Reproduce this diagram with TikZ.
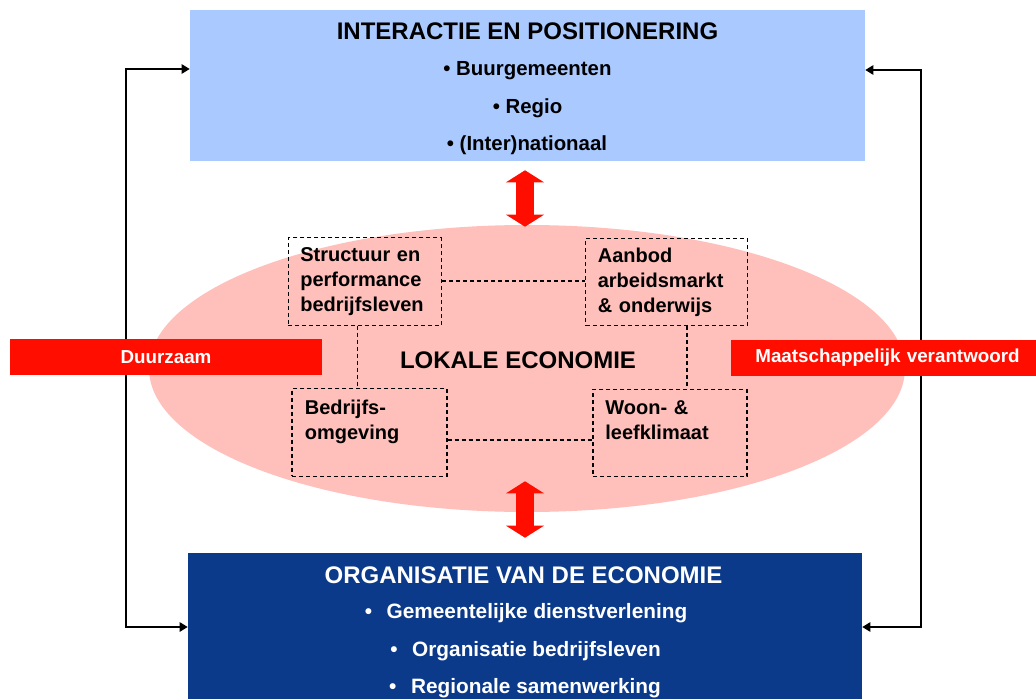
\documentclass[tikz,border=0pt]{standalone}
\usepackage{fontspec}
\setmainfont{Liberation Sans}
\usepackage{tikz}
\usetikzlibrary{shapes.geometric,arrows.meta,positioning}

\definecolor{lightblue}{RGB}{170,202,255}
\definecolor{darkblue}{RGB}{12,58,138}
\definecolor{salmon}{RGB}{255,192,187}
\definecolor{signalred}{RGB}{255,14,0}

\tikzset{
  block/.style={rectangle, inner sep=0pt},
  headtext/.style={font=\bfseries\fontsize{18}{21}\selectfont},
  itemtext/.style={font=\bfseries\fontsize{15.3}{18}\selectfont},
  dbox/.style={draw, dash pattern=on 3pt off 2.25pt, line width=0.8pt, align=left, inner xsep=9pt, text width=97pt, minimum height=65.5pt, font=\bfseries\fontsize{15}{18.75}\selectfont},
  link/.style={dash pattern=on 3pt off 2.25pt, line width=0.8pt},
  feedback/.style={{Triangle[length=6pt,width=7pt]}-{Triangle[length=6pt,width=7pt]}, line width=1.1pt},
  bigarrow/.style={signalred, line width=14pt, {Triangle[length=9pt,width=28pt]}-{Triangle[length=9pt,width=28pt]}},
  bar/.style={fill=signalred, text=white, minimum height=27pt, inner sep=0pt, font=\bfseries\fontsize{14.1}{17}\selectfont}
}

\begin{document}
\begin{tikzpicture}[x=0.75pt, y=-0.75pt]
    \clip (0,0) rectangle (1036,699);

    % lokale economie
    \node[ellipse, fill=salmon, minimum width=567pt, minimum height=215.25pt, inner sep=0pt] (eco) at (527,368.5) {};
    \node[headtext] (ecotitle) at (518,360) {LOKALE ECONOMIE};

    \node[dbox, minimum width=114pt] (tl) at (365,281.5) {Structuur en\\performance\\bedrijfsleven};
    \node[dbox, text width=103pt, minimum width=120.75pt] (tr) at (666.5,282) {Aanbod\\arbeidsmarkt\\\& onderwijs};
    \node[dbox, minimum width=116.25pt] (bl) at (369.5,432.5) {Bedrijfs-\\omgeving\\\mbox{}};
    \node[dbox, minimum width=115.5pt] (br) at (670,433) {Woon- \&\\leefklimaat\\\mbox{}};

    \draw[link] (tl.east |- 0,281) -- (tr.west |- 0,281);
    \draw[link] (tl.south -| 357.5,0) -- (bl.north -| 357.5,0);
    \draw[link] (tr.south -| 687,0) -- (br.north -| 687,0);
    \draw[link] (bl.east |- 0,440) -- (br.west |- 0,440);

    % interactie en positionering
    \node[block, fill=lightblue, minimum width=506.25pt, minimum height=113.25pt] (inter) at (527.5,85.5) {};
    \node[headtext] (intertitle) at (527.5,31.5) {INTERACTIE EN POSITIONERING};
    \node[itemtext] (buur) at (527.5,71) {\textbullet{} Buurgemeenten};
    \node[itemtext] (regio) at (527.5,108.5) {\textbullet{} Regio};
    \node[itemtext] (intl) at (527,145.5) {\textbullet{} (Inter)nationaal};

    % organisatie van de economie
    \node[block, fill=darkblue, minimum width=505.5pt, minimum height=120pt] (org) at (525,633) {};
    \node[headtext, text=white] (orgtitle) at (523.5,575) {ORGANISATIE VAN DE ECONOMIE};
    \node[itemtext, font=\bfseries\fontsize{15.6}{18}\selectfont, text=white] (dienst) at (526,613.5) {\textbullet\hspace{11pt}Gemeentelijke dienstverlening};
    \node[itemtext, font=\bfseries\fontsize{15.6}{18}\selectfont, text=white] (bedrijf) at (525.5,651.5) {\textbullet\hspace{11pt}Organisatie bedrijfsleven};
    \node[itemtext, font=\bfseries\fontsize{15.6}{18}\selectfont, text=white] (samen) at (525,688.5) {\textbullet\hspace{11pt}Regionale samenwerking};

    \draw[bigarrow] ([yshift=-6.75pt]inter.south -| 525,0) -- ([yshift=-1.5pt]eco.north -| 525,0);
    \draw[bigarrow] ([yshift=23.25pt]eco.south -| 525,0) -- ([yshift=11.25pt]org.north -| 525,0);

    \draw[feedback] (inter.west |- 0,69) -| (126,350) |- (org.west |- 0,627);
    \draw[feedback] (inter.east |- 0,70) -| (921,350) |- (org.east |- 0,627);

    \node[bar, minimum width=234pt] (duur) at (166,357) {Duurzaam};
    \node[bar, minimum width=228.75pt, text width=228.75pt, align=center] (maat) at (883.5,358) {\hspace*{6pt}Maatschappelijk verantwoord};
\end{tikzpicture}
\end{document}
